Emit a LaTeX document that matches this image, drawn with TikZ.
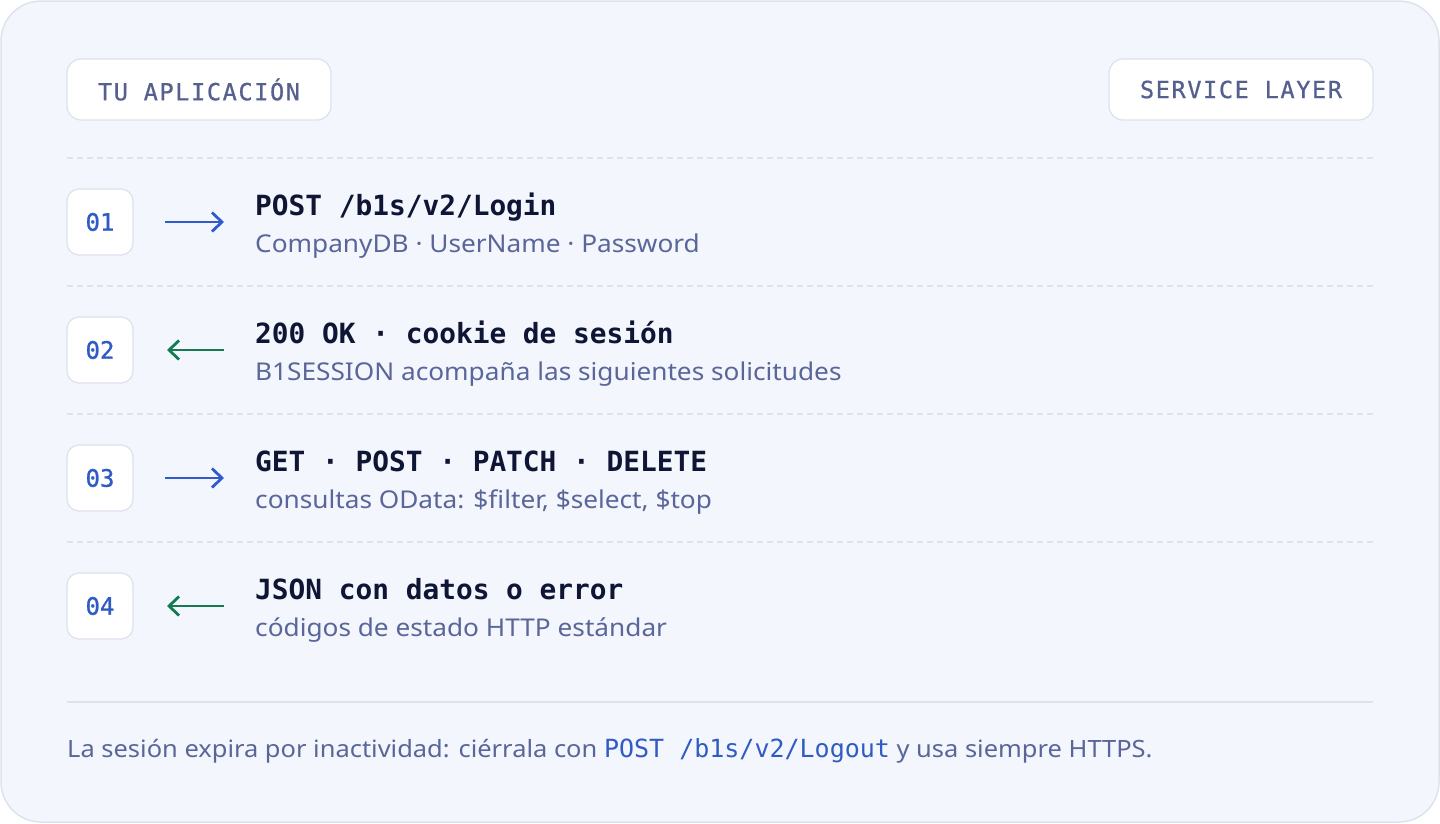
\documentclass[tikz,border=0pt]{standalone}
\usepackage{fontspec}
\setmainfont[FakeStretch=1.07]{Noto Sans}
\newfontfamily\monof{DejaVu Sans Mono}
\newfontfamily\monomed[FakeBold=1]{DejaVu Sans Mono}
\newfontfamily\monospaced[LetterSpace=7,FakeBold=0.8]{DejaVu Sans Mono}
\usetikzlibrary{arrows.meta}
\definecolor{bgc}{HTML}{F3F6FC}
\definecolor{framec}{HTML}{DDE3EE}
\definecolor{boxline}{HTML}{DDE1EC}
\definecolor{hdrtxt}{HTML}{56608F}
\definecolor{numtxt}{HTML}{2F5BC4}
\definecolor{bluearr}{HTML}{2F5BD0}
\definecolor{greenarr}{HTML}{157A50}
\definecolor{titletxt}{HTML}{0F1535}
\definecolor{subtxt}{HTML}{5A6699}
\definecolor{sepc}{HTML}{DCE2EE}
\tikzset{
  hdrbox/.style={draw=boxline, line width=1.2pt, fill=white, rounded corners=14pt, minimum width=264pt, minimum height=61pt, inner sep=0pt, text=hdrtxt, font=\monospaced\fontsize{23.5}{26}\selectfont},
  numbox/.style={draw=boxline, line width=1.2pt, fill=white, rounded corners=12pt, minimum width=66pt, minimum height=66pt, inner sep=0pt, text=numtxt, font=\monomed\fontsize{24}{26}\selectfont},
  ttl/.style={anchor=base west, inner sep=0pt, text=titletxt, font=\monof\bfseries\fontsize{27.8}{32}\selectfont},
  sub/.style={anchor=base west, inner sep=0pt, text=subtxt, font=\fontsize{24.5}{28}\selectfont},
  rarr/.style={draw=bluearr, line width=2.8pt, -{Straight Barb[length=10pt,width=19pt,line width=2.8pt]}},
  larr/.style={draw=greenarr, line width=2.8pt, -{Straight Barb[length=10pt,width=19pt,line width=2.8pt]}},
  sepline/.style={draw=sepc, line width=1.2pt, dash pattern=on 6pt off 4pt},
}
\begin{document}
\begin{tikzpicture}[x=1pt,y=-1pt]
\useasboundingbox (0,0) rectangle (1440,823);
\draw[draw=framec, fill=bgc, line width=1.5pt, rounded corners=40pt] (1,1) rectangle (1439,822);

\node[hdrbox] (app) at (199,89.5) {TU APLICACIÓN};
\node[hdrbox] (sl) at (1241,89.5) {SERVICE LAYER};

\coordinate (s0a) at (67,158); \coordinate (s0b) at (1373,158);
\coordinate (s1a) at (67,286); \coordinate (s1b) at (1373,286);
\coordinate (s2a) at (67,414); \coordinate (s2b) at (1373,414);
\coordinate (s3a) at (67,542); \coordinate (s3b) at (1373,542);
\draw[sepline] (s0a) -- (s0b);
\draw[sepline] (s1a) -- (s1b);
\draw[sepline] (s2a) -- (s2b);
\draw[sepline] (s3a) -- (s3b);

% row 1
\node[numbox] (n1) at (100,222) {01};
\coordinate (a1s) at (165,222); \coordinate (a1e) at (224,222);
\draw[rarr] (a1s) -- (a1e);
\node[ttl] (t1) at (255,215) {POST /b1s/v2/Login};
\node[sub] (d1) at (255,252) {CompanyDB · UserName · Password};

% row 2
\node[numbox] (n2) at (100,350) {02};
\coordinate (a2s) at (224,350); \coordinate (a2e) at (167,350);
\draw[larr] (a2s) -- (a2e);
\node[ttl] (t2) at (255,343) {200 OK · cookie de sesión};
\node[sub] (d2) at (255,380) {B1SESSION acompaña las siguientes solicitudes};

% row 3
\node[numbox] (n3) at (100,478) {03};
\coordinate (a3s) at (165,478); \coordinate (a3e) at (224,478);
\draw[rarr] (a3s) -- (a3e);
\node[ttl] (t3) at (255,471) {GET · POST · PATCH · DELETE};
\node[sub] (d3) at (255,508) {consultas OData: \$filter, \$select, \$top};

% row 4
\node[numbox] (n4) at (100,606) {04};
\coordinate (a4s) at (224,606); \coordinate (a4e) at (167,606);
\draw[larr] (a4s) -- (a4e);
\node[ttl] (t4) at (255,599) {JSON con datos o error};
\node[sub] (d4) at (255,636) {códigos de estado HTTP estándar};

\coordinate (fa) at (67,702); \coordinate (fb) at (1373,702);
\draw[draw=sepc, line width=1.5pt] (fa) -- (fb);

\node[anchor=base west, inner sep=0pt, text=subtxt, font=\fontsize{23.8}{26}\selectfont] (foot) at (67,757)
 {La sesión expira por inactividad: ciérrala con {\color{numtxt}\monof\fontsize{25}{26}\selectfont POST /b1s/v2/Logout} y usa siempre HTTPS.};
\end{tikzpicture}
\end{document}
